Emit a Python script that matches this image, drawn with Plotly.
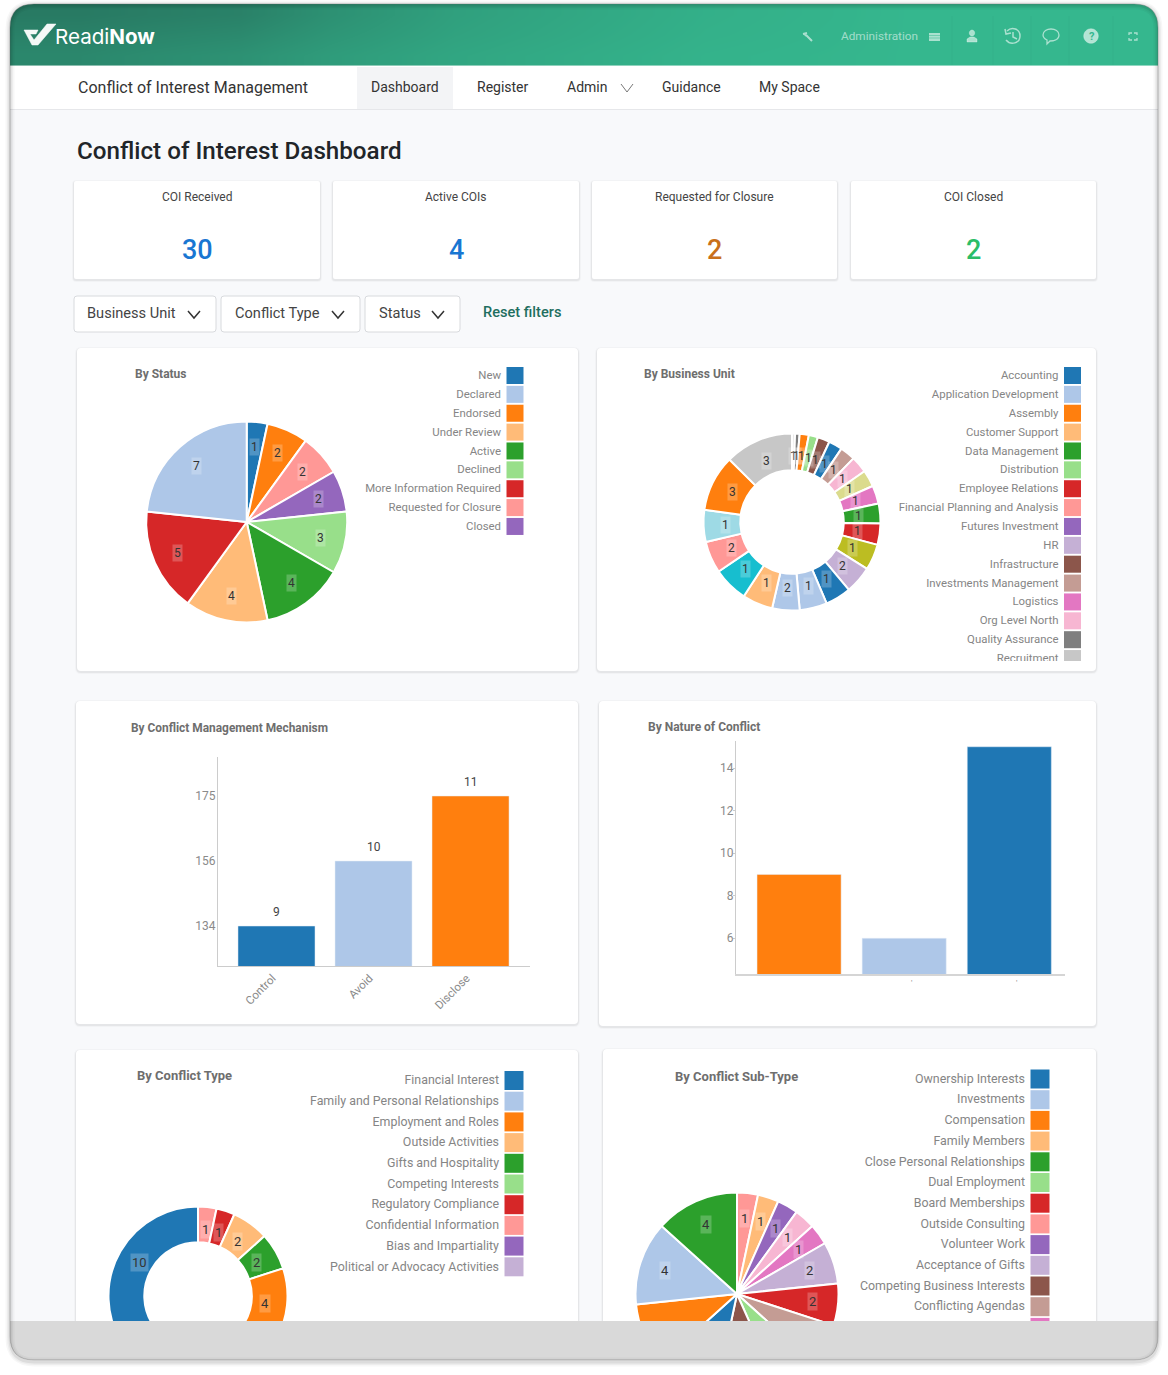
import math
import plotly.graph_objects as go

W, H = 1168, 1500
FONT = "Roboto"

# ---- data ----
status_names = ["New", "Declared", "Endorsed", "Under Review", "Active", "Declined",
                "More Information Required", "Requested for Closure", "Closed"]
status_legend_colors = ["#1f77b4", "#aec7e8", "#ff7f0e", "#ffbb78", "#2ca02c", "#98df8a", "#d62728", "#ff9896", "#9467bd"]
status_values = [1, 2, 2, 2, 3, 4, 4, 5, 7]
status_colors = ["#1f77b4", "#ff7f0e", "#ff9896", "#9467bd", "#98df8a", "#2ca02c", "#ffbb78", "#d62728", "#aec7e8"]

bu_names = ["Accounting", "Application Development", "Assembly", "Customer Support", "Data Management",
            "Distribution", "Employee Relations", "Financial Planning and Analysis", "Futures Investment",
            "HR", "Infrastructure", "Investments Management", "Logistics", "Org Level North",
            "Quality Assurance", "Recruitment"]
bu_legend_colors = ["#1f77b4", "#aec7e8", "#ff7f0e", "#ffbb78", "#2ca02c", "#98df8a", "#d62728", "#ff9896",
                    "#9467bd", "#c5b0d5", "#8c564b", "#c49c94", "#e377c2", "#f7b6d2", "#7f7f7f", "#c7c7c7"]
bu_sizes = [2, 3, 6, 6, 8, 9, 10, 11, 11, 12, 13, 14, 17, 18, 17, 18, 18, 20, 23, 21, 21, 37, 45]
bu_labels = ["1", "1", "1", "1", "1", "1", "1", "1", "1", "1", "1", "1", "1", "2", "1", "1", "2", "1", "1", "2", "1", "3", "3"]
bu_colors = ["#e8e8e8", "#7f7f7f", "#ff7f0e", "#98df8a", "#8c564b", "#1f77b4", "#c49c94", "#f7b6d2", "#dbdb8d",
             "#e377c2", "#2ca02c", "#d62728", "#bcbd22", "#c5b0d5", "#1f77b4", "#aec7e8", "#aec7e8", "#ffbb78",
             "#17becf", "#ff9896", "#9edae5", "#ff7f0e", "#c7c7c7"]

mech_names = ["Control", "Avoid", "Disclose"]
mech_values = [9, 10, 11]
mech_ticks = ["134", "156", "175"]
mech_colors = ["#1f77b4", "#aec7e8", "#ff7f0e"]

nature_names = ["A", "B", "C"]
nature_values = [9, 6, 15]
nature_ticks = [6, 8, 10, 12, 14]
nature_colors = ["#ff7f0e", "#aec7e8", "#1f77b4"]

type_names = ["Financial Interest", "Family and Personal Relationships", "Employment and Roles", "Outside Activities",
              "Gifts and Hospitality", "Competing Interests", "Regulatory Compliance", "Confidential Information",
              "Bias and Impartiality", "Political or Advocacy Activities"]
type_legend_colors = ["#1f77b4", "#aec7e8", "#ff7f0e", "#ffbb78", "#2ca02c", "#98df8a", "#d62728", "#ff9896", "#9467bd", "#c5b0d5"]
type_values = [1, 1, 2, 2, 4, 10, 10]
type_colors = ["#ff9896", "#d62728", "#ffbb78", "#2ca02c", "#ff7f0e", "#aec7e8", "#1f77b4"]

sub_names = ["Ownership Interests", "Investments", "Compensation", "Family Members", "Close Personal Relationships",
             "Dual Employment", "Board Memberships", "Outside Consulting", "Volunteer Work", "Acceptance of Gifts",
             "Competing Business Interests", "Conflicting Agendas", ""]
sub_legend_colors = ["#1f77b4", "#aec7e8", "#ff7f0e", "#ffbb78", "#2ca02c", "#98df8a", "#d62728", "#ff9896", "#9467bd",
                     "#c5b0d5", "#8c564b", "#c49c94", "#e377c2"]
sub_values = [1, 1, 1, 1, 1, 2, 2, 2, 2, 3, 3, 3, 4, 4]
sub_colors = ["#ff9896", "#ffbb78", "#9467bd", "#f7b6d2", "#e377c2", "#c5b0d5", "#d62728", "#c49c94", "#98df8a",
              "#8c564b", "#1f77b4", "#ff7f0e", "#aec7e8", "#2ca02c"]

kpi_titles = ["COI Received", "Active COIs", "Requested for Closure", "COI Closed"]
kpi_values = ["30", "4", "2", "2"]
kpi_colors = ["#1976d2", "#1976d2", "#c9701b", "#2bbd68"]

header_x = [10, 150, 330, 580, 830, 1000, 1158]
header_y = [4, 25, 45, 66]
header_z = [[0.00, 0.12, 0.62, 0.88, 1.00, 1.00],
            [0.12, 0.25, 0.66, 0.90, 1.00, 1.00],
            [0.22, 0.38, 0.72, 0.93, 1.00, 1.00]]

# ---- helpers ----
shapes, annos, traces = [], [], []


def rr(x0, y0, x1, y1, r):
    return (f"M{x0+r},{y0} L{x1-r},{y0} Q{x1},{y0} {x1},{y0+r} L{x1},{y1-r} Q{x1},{y1} {x1-r},{y1} "
            f"L{x0+r},{y1} Q{x0},{y1} {x0},{y1-r} L{x0},{y0+r} Q{x0},{y0} {x0+r},{y0} Z")


def ellipse(cx, cy, rx, ry):
    k = 0.5523
    return (f"M{cx-rx},{cy} C{cx-rx},{cy-k*ry} {cx-k*rx},{cy-ry} {cx},{cy-ry} "
            f"C{cx+k*rx},{cy-ry} {cx+rx},{cy-k*ry} {cx+rx},{cy} "
            f"C{cx+rx},{cy+k*ry} {cx+k*rx},{cy+ry} {cx},{cy+ry} "
            f"C{cx-k*rx},{cy+ry} {cx-rx},{cy+k*ry} {cx-rx},{cy} Z")


def box(x0, y0, x1, y1, r=0, fill="white", line=None, lw=1, layer="below"):
    d = dict(type="path", path=rr(x0, y0, x1, y1, r), xref="x", yref="y", layer=layer, fillcolor=fill,
             line=dict(width=lw if line else 0, color=line or "rgba(0,0,0,0)"))
    shapes.append(d)


def stroke(path, color, w=1.5, layer="above", fill="rgba(0,0,0,0)"):
    shapes.append(dict(type="path", path=path, xref="x", yref="y", layer=layer, fillcolor=fill,
                       line=dict(width=w, color=color)))


def text(x, y, s, size=12, color="#666", anchor="left", weight=400, bg=None, pad=0, family=FONT):
    dx = -1 if anchor == "left" else 0
    a = dict(x=x + dx, y=y, xref="x", yref="y", text=s, showarrow=False, xanchor=anchor, yanchor="middle",
             font=dict(family=family, size=size, color=color, weight=weight), borderpad=pad)
    if bg:
        a["bgcolor"] = bg
    annos.append(a)


def card(x0, y0, x1, y1, r=4):
    box(x0 - 2, y0 - 1, x1 + 2, y1 + 3, r + 2, fill="rgba(0,0,0,0.025)")
    box(x0 - 1, y0, x1 + 1, y1 + 2, r + 1, fill="rgba(0,0,0,0.05)")
    box(x0, y0, x1, y1, r)


def pie(cx, cy, r, sizes, colors, labels, hole=0.0, fsize=12):
    traces.append(go.Pie(values=sizes, marker=dict(colors=colors, line=dict(color="white", width=2)),
                         sort=False, direction="clockwise", rotation=0, hole=hole, textinfo="none",
                         hoverinfo="skip", showlegend=False,
                         domain=dict(x=[(cx - r) / W, (cx + r) / W], y=[1 - (cy + r) / H, 1 - (cy - r) / H])))
    total = sum(sizes)
    acc = 0
    for v, lab in zip(sizes, labels):
        a = math.radians((acc + v / 2) / total * 360)
        acc += v
        x = cx + 0.75 * r * math.sin(a)
        y = cy - 0.75 * r * math.cos(a)
        if y < 1312:
            text(x, y, lab, size=fsize, color="#333", anchor="center", bg="rgba(255,255,255,0.22)", pad=1)


def legend(x_sw, y0, step, sw, names, colors, fsize):
    ys = [y0 + i * step for i in range(len(names))]
    traces.append(go.Scatter(x=[x_sw] * len(names), y=ys, mode="markers", xaxis="x", yaxis="y",
                             marker=dict(symbol="square", size=sw, color=colors, line=dict(width=0)),
                             hoverinfo="skip", showlegend=False))
    traces.append(go.Scatter(x=[x_sw - sw / 2 - 5.5] * len(names), y=[v + 0.7 for v in ys], text=names, mode="text",
                             xaxis="x", yaxis="y", textposition="middle left",
                             textfont=dict(family=FONT, size=fsize, color="#858585"),
                             hoverinfo="skip", showlegend=False))


# ---- page furniture ----
box(0, 0, 1168, 1400, fill="#f8f9fb")
box(10, 66, 1158, 109, fill="#ffffff")
shapes.append(dict(type="line", x0=10, x1=1158, y0=109.5, y1=109.5, xref="x", yref="y", layer="below",
                   line=dict(color="#e6e7ea", width=1)))
box(357, 67, 453, 109, fill="#f3f4f6")

traces.append(go.Heatmap(x=header_x, y=header_y, z=header_z, zsmooth="best", showscale=False, hoverinfo="skip",
                         zmin=0, zmax=1, xaxis="x", yaxis="y",
                         colorscale=[[0, "#287a63"], [1, "#35b78e"]]))
shapes.append(dict(type="line", x0=10, x1=1158, y0=66, y1=66, xref="x", yref="y", layer="above",
                   line=dict(color="rgba(255,255,255,0.9)", width=1)))

# logo
stroke("M24,30 L38,30 L36,34 L30,34 L34,40 L47,24 L56,24 L38,45 L32,45 Z", "white", 0.5, fill="rgba(255,255,255,0.95)")
text(55, 36.5, "Readi<b>Now</b>", size=20.6, color="white", family="Inter")

# header tools
ICON = "rgba(255,255,255,0.58)"
for sx in [952, 993, 1031, 1069, 1113]:
    shapes.append(dict(type="line", x0=sx, x1=sx, y0=16, y1=65, xref="x", yref="y", layer="above",
                       line=dict(color="rgba(0,0,0,0.025)", width=1)))
stroke("M804,33 L806,36 M806,35 L812,41 M803,34 L807,33", ICON, 2)
text(841, 36, "Administration", size=11.8, color="rgba(255,255,255,0.55)")
stroke("M929,33 L940,33 L940,41 L929,41 Z", "rgba(0,0,0,0)", 0, fill=ICON)
stroke("M929,35.5 L940,35.5 M929,38 L940,38", "rgba(53,183,142,0.7)", 0.7)
stroke(ellipse(972, 33, 2.7, 3), ICON, 0.5, fill=ICON)
stroke("M967,42 L967,39 L970,37 L974,37 L977,39 L977,42 Z", ICON, 0.5, fill=ICON)
stroke("M1007,31 C1012,26 1020,29 1020,36 C1020,43 1011,46 1006,40 M1005,29 L1006,34 L1011,33 M1013,32 L1013,37 L1017,39",
       ICON, 1.5)
stroke("M1043,35 C1043,27 1059,27 1059,35 C1059,40 1053,41 1050,41 L1047,44 L1047,40 C1045,39 1043,38 1043,35 Z", ICON, 1.3)
stroke(ellipse(1091, 36, 7.3, 7.3), ICON, 0.5, fill="rgba(255,255,255,0.62)")
text(1091.5, 36.5, "?", size=11, color="#35b78e", anchor="center", weight=700)
stroke("M1129,35 L1129,33 L1132,33 M1134,33 L1137,33 L1137,35 M1137,38 L1137,40 L1134,40 M1132,40 L1129,40 L1129,38", ICON, 1.3)

# nav
text(77.5, 87, "Conflict of Interest Management", size=16, color="#333")
text(405, 87, "Dashboard", size=14, color="#333", anchor="center")
text(477, 87, "Register", size=14, color="#333")
text(567, 87, "Admin", size=14, color="#333")
stroke("M621,84 L627,92 L633,84", "#777", 1)
text(662, 87, "Guidance", size=14, color="#333")
text(759, 87, "My Space", size=14, color="#333")

text(77, 151, "Conflict of Interest Dashboard", size=24.2, color="#212529", weight=500)

# KPI cards
for (x0, x1), t, v, c in zip([(74, 320), (333, 579), (592, 837), (851, 1096)], kpi_titles, kpi_values, kpi_colors):
    card(x0, 181, x1, 279, 2)
    text((x0 + x1) / 2, 196.5, t, size=12, color="#444", anchor="center")
    text((x0 + x1) / 2, 249.5, v, size=27, color=c, anchor="center", weight=500)

# filters
for x0, x1, s, tx, cx in [(74, 216, "Business Unit", 87, 194), (221, 360, "Conflict Type", 235, 338), (365, 460, "Status", 378.5, 438)]:
    box(x0, 296, x1, 332, 3, fill="white", line="#d8dadd")
    text(tx, 313, s, size=14.6, color="#444")
    stroke(f"M{cx-6},311 L{cx},318 L{cx+6},311", "#333", 1.5)
text(483, 312, "Reset filters", size=14.6, color="#1f6f5f", weight=500)

# chart cards
card(77, 348, 578, 671)
card(597, 348, 1096, 671)
card(76, 701, 578, 1024)
card(599, 701, 1096, 1026)
card(76, 1050, 578, 1340)
card(603, 1049, 1096, 1340)

TITLE = "#6e6e6e"
text(135, 373.5, "By Status", size=12, color=TITLE, weight=700)
text(643.5, 373.5, "By Business Unit", size=12, color=TITLE, weight=700)
text(131, 727.5, "By Conflict Management Mechanism", size=11.9, color=TITLE, weight=700)
text(647.5, 726.5, "By Nature of Conflict", size=12, color=TITLE, weight=700)
text(137, 1075.5, "By Conflict Type", size=13, color=TITLE, weight=700)
text(675, 1076.5, "By Conflict Sub-Type", size=13, color=TITLE, weight=700)

# legends
legend(515, 375.5, 18.87, 17, status_names, status_legend_colors, 11.4)
legend(1072.5, 375.5, 18.87, 17, bu_names, bu_legend_colors, 11.4)
legend(514, 1080.5, 20.7, 19, type_names, type_legend_colors, 12.4)
legend(1040, 1079, 20.7, 19, sub_names, sub_legend_colors, 12.4)
box(890, 661, 1090, 671, layer="above", fill="white")

# pies
pie(246.7, 522, 100.5, status_values, status_colors, [str(v) for v in status_values])
pie(792, 522, 88.5, bu_sizes, bu_colors, bu_labels, hole=0.585)
pie(198, 1296, 89.5, type_values, type_colors, [str(v) for v in type_values], hole=0.6, fsize=13)
pie(737, 1294, 101.5, sub_values, sub_colors, [str(v) for v in sub_values], fsize=13)

# bars
traces.append(go.Bar(x=mech_names, y=mech_values, width=0.794, xaxis="x2", yaxis="y2", marker=dict(color=mech_colors),
                     hoverinfo="skip", showlegend=False))
for n, v in zip(mech_names, mech_values):
    annos.append(dict(x=n, y=v, xref="x2", yref="y2", text=str(v), showarrow=False, yanchor="bottom", yshift=5,
                      font=dict(family=FONT, size=12, color="#444")))
traces.append(go.Bar(x=nature_names, y=nature_values, width=0.8, xaxis="x3", yaxis="y3", marker=dict(color=nature_colors),
                     hoverinfo="skip", showlegend=False))
text(911, 982, "'", size=8, color="#888", anchor="center")
text(1016, 982, "'", size=8, color="#888", anchor="center")

# frame and bottom band, on top of everything
box(10, 1321, 1158, 1361, fill="#d9d9d9", layer="above")
shapes.append(dict(type="path", path=f"M0,0 L{W},0 L{W},{H} L0,{H} Z " + rr(10, 4, 1158, 1360, 24), fillrule="evenodd",
                   xref="x", yref="y", layer="above", fillcolor="white", line=dict(width=0)))
for w, a in [(9, 0.03), (6, 0.04), (3, 0.07)]:
    stroke(rr(10, 5, 1158, 1362, 24), f"rgba(0,0,0,{a})", w)
stroke(rr(10, 4, 1158, 1360, 24), "rgba(90,90,90,0.3)", 1)

TICK = dict(family=FONT, size=12, color="#8a8a8a")
fig = go.Figure(data=traces)
fig.update_layout(
    width=W, height=H, autosize=False, margin=dict(l=0, r=0, t=0, b=0, pad=0),
    paper_bgcolor="white", plot_bgcolor="rgba(0,0,0,0)", showlegend=False,
    shapes=shapes, annotations=annos, bargap=0.2,
    xaxis=dict(domain=[0, 1], range=[0, W], visible=False, fixedrange=True),
    yaxis=dict(domain=[0, 1], range=[H, 0], visible=False, fixedrange=True),
    xaxis2=dict(domain=[218 / W, 530 / W], anchor="y2", range=[-0.603, 2.613], showline=True, linecolor="#cccccc",
                showgrid=False, zeroline=False, tickangle=-45, tickfont=dict(family=FONT, size=11.5, color="#8a8a8a"),
                ticks="", fixedrange=True, ticklabelshift=-4),
    yaxis2=dict(domain=[1 - 966 / H, 1 - 757 / H], anchor="x2", range=[8.385, 11.6], showline=True, linecolor="#cccccc",
                showgrid=False, zeroline=False, tickvals=mech_values, ticktext=mech_ticks, tickfont=TICK, ticks="",
                fixedrange=True, ticklabelstandoff=-1),
    xaxis3=dict(domain=[736 / W, 1065 / W], anchor="y3", range=[-0.60, 2.53], showline=True, linecolor="#d5d5d5",
                linewidth=1.5, showgrid=False, zeroline=False, showticklabels=False, ticks="", fixedrange=True),
    yaxis3=dict(domain=[1 - 974 / H, 1 - 741 / H], anchor="x3", range=[4.32, 15.27], showline=True, linecolor="#cccccc",
                showgrid=False, zeroline=False, tickvals=nature_ticks, tickfont=TICK, ticks="outside", ticklen=2,
                tickcolor="#cccccc", fixedrange=True, ticklabelstandoff=-3),
)
fig.write_html("out.html", config=dict(displayModeBar=False),
               post_script="document.documentElement.style.overflow='hidden';document.body.style.margin='0';"
                           "document.body.style.height='1375px';document.body.style.overflow='hidden';")
